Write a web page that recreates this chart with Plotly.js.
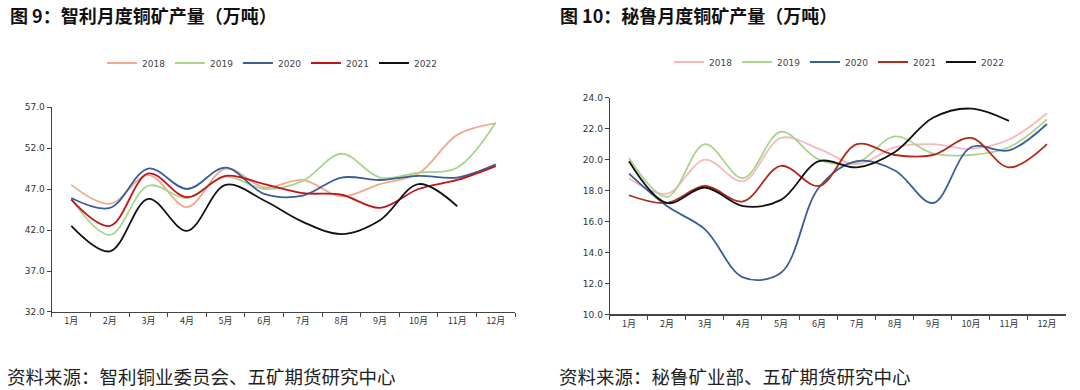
<!DOCTYPE html>
<html>
<head>
<meta charset="utf-8">
<script src="https://cdn.plot.ly/plotly-3.0.1.min.js"></script>
<style>html,body{margin:0;padding:0;background:#fff;}#chart{width:1080px;height:390px;}</style>
</head>
<body>
<div id="chart"></div>
<script>
const months = ['1月','2月','3月','4月','5月','6月','7月','8月','9月','10月','11月','12月'];
const years = ['2018','2019','2020','2021','2022'];

// Chile monthly copper mine output (10k t)
const chile2018 = [47.5, 45.2, 48.7, 44.8, 49.5, 47.2, 48.1, 46.1, 47.6, 48.9, 53.6, 55.0];
const chile2019 = [45.8, 41.4, 47.4, 45.9, 48.5, 47.0, 48.0, 51.3, 48.4, 49.0, 49.6, 55.1];
const chile2020 = [45.9, 44.7, 49.5, 47.0, 49.6, 46.4, 46.2, 48.4, 48.1, 48.6, 48.4, 50.0];
const chile2021 = [45.7, 42.5, 48.9, 46.0, 48.6, 47.6, 46.5, 46.3, 44.7, 47.0, 48.1, 49.8];
const chile2022 = [42.5, 39.4, 45.8, 41.9, 47.5, 45.6, 43.0, 41.5, 43.2, 47.6, 44.9];

// Peru monthly copper mine output (10k t)
const peru2018 = [18.8, 17.8, 20.0, 18.6, 21.4, 20.7, 19.7, 20.8, 21.0, 20.7, 21.3, 23.0];
const peru2019 = [20.1, 17.6, 21.0, 18.8, 21.8, 20.0, 19.8, 21.5, 20.4, 20.3, 20.8, 22.6];
const peru2020 = [19.1, 17.0, 15.5, 12.4, 12.7, 18.2, 19.9, 19.3, 17.2, 20.8, 20.6, 22.3];
const peru2021 = [17.7, 17.2, 18.3, 17.3, 19.6, 18.3, 21.0, 20.3, 20.3, 21.4, 19.5, 21.0];
const peru2022 = [19.9, 17.2, 18.2, 17.0, 17.4, 19.9, 19.5, 20.5, 22.7, 23.3, 22.5];

const chileTicks = [32, 37, 42, 47, 52, 57];
const peruTicks = [10, 12, 14, 16, 18, 20, 22, 24];

const leftColors = ['#F2A88E', '#A8D58C', '#3A5E9C', '#C0141C', '#111111'];
const rightColors = ['#F7B8BC', '#A8D58C', '#3A5E9C', '#B02A17', '#111111'];

const chileData = [chile2018, chile2019, chile2020, chile2021, chile2022];
const peruData = [peru2018, peru2019, peru2020, peru2021, peru2022];

const traces = [];
years.forEach((y, i) => {
  traces.push({
    x: months.slice(0, chileData[i].length), y: chileData[i], name: y,
    type: 'scatter', mode: 'lines', xaxis: 'x', yaxis: 'y', legend: 'legend',
    line: {color: leftColors[i], width: 1.8, shape: 'spline', smoothing: 1}
  });
});
years.forEach((y, i) => {
  traces.push({
    x: months.slice(0, peruData[i].length), y: peruData[i], name: y,
    type: 'scatter', mode: 'lines', xaxis: 'x2', yaxis: 'y2', legend: 'legend2',
    line: {color: rightColors[i], width: 1.8, shape: 'spline', smoothing: 1}
  });
});

const tickFont = {family: 'DejaVu Sans, Noto Sans CJK SC', size: 9, color: '#333'};
const xCommon = {
  type: 'category', categoryorder: 'array', categoryarray: months,
  range: [-0.5, 11.5], showline: true, linecolor: '#444', linewidth: 1.3,
  ticks: 'outside', ticklen: 4, tickcolor: '#444', tickson: 'boundaries',
  showgrid: false, zeroline: false, tickfont: {family: 'Noto Sans CJK SC', size: 9, color: '#333'},
  fixedrange: true
};
const yCommon = {
  showline: true, linecolor: '#444', linewidth: 1.3, ticks: 'outside', ticklen: 4,
  tickcolor: '#444', showgrid: false, zeroline: false, tickformat: '.1f',
  tickfont: tickFont, fixedrange: true
};

const legendCommon = {
  orientation: 'h', xanchor: 'left', yanchor: 'middle',
  font: {family: 'DejaVu Sans', size: 9, color: '#444'},
  entrywidth: 23, itemwidth: 30, bgcolor: 'rgba(0,0,0,0)'
};

const layout = {
  width: 1080, height: 390,
  margin: {l: 0, r: 0, t: 0, b: 0},
  paper_bgcolor: '#fff', plot_bgcolor: '#fff',
  showlegend: true,
  xaxis: Object.assign({}, xCommon, {domain: [0.0481, 0.4769], anchor: 'y'}),
  yaxis: Object.assign({}, yCommon, {domain: [0.2, 0.7256], range: [32, 57], tickvals: chileTicks, anchor: 'x'}),
  xaxis2: Object.assign({}, xCommon, {domain: [0.5648, 0.987], anchor: 'y2'}),
  yaxis2: Object.assign({}, yCommon, {domain: [0.1936, 0.7495], range: [10, 24], tickvals: peruTicks, anchor: 'x2'}),
  legend: Object.assign({}, legendCommon, {x: 0.0944, y: 1 - 63/390}),
  legend2: Object.assign({}, legendCommon, {x: 0.6194, y: 1 - 62/390}),
  annotations: [
    {text: '<b>图 9：智利月度铜矿产量（万吨）</b>', xref: 'paper', yref: 'paper', x: 8/1080, y: 1 - 15/390,
     xanchor: 'left', yanchor: 'middle', showarrow: false,
     font: {family: 'Noto Sans CJK SC', size: 18, color: '#111'}},
    {text: '<b>图 10：秘鲁月度铜矿产量（万吨）</b>', xref: 'paper', yref: 'paper', x: 558/1080, y: 1 - 15/390,
     xanchor: 'left', yanchor: 'middle', showarrow: false,
     font: {family: 'Noto Sans CJK SC', size: 18, color: '#111'}},
    {text: '资料来源：智利铜业委员会、五矿期货研究中心', xref: 'paper', yref: 'paper', x: 5/1080, y: 1 - 376/390,
     xanchor: 'left', yanchor: 'middle', showarrow: false,
     font: {family: 'Noto Sans CJK SC', size: 18.5, color: '#222'}},
    {text: '资料来源：秘鲁矿业部、五矿期货研究中心', xref: 'paper', yref: 'paper', x: 557/1080, y: 1 - 376/390,
     xanchor: 'left', yanchor: 'middle', showarrow: false,
     font: {family: 'Noto Sans CJK SC', size: 18.5, color: '#222'}}
  ]
};

Plotly.newPlot('chart', traces, layout, {displayModeBar: false, staticPlot: true});
</script>
</body>
</html>
